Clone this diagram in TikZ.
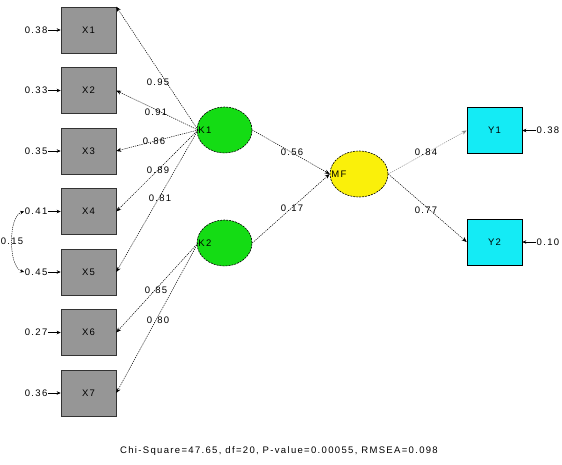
\documentclass[tikz,border=0pt]{standalone}
\usepackage{fontspec}
\setmainfont{Liberation Sans}[LetterSpace=14]
\usetikzlibrary{arrows.meta,shapes.geometric}
\definecolor{boxgray}{RGB}{150,150,150}
\definecolor{lgreen}{RGB}{20,220,20}
\definecolor{lyellow}{RGB}{250,240,10}
\definecolor{lcyan}{RGB}{20,235,245}
\begin{document}
\begin{tikzpicture}[x=1pt,y=-1pt,
  font=\fontsize{9.5}{11}\selectfont,
  obs/.style={draw=black!80,fill=boxgray,minimum width=55pt,minimum height=46pt,inner sep=0pt,line width=0.6pt},
  yobs/.style={draw=black,fill=lcyan,minimum width=55pt,minimum height=46pt,inner sep=0pt,line width=0.6pt},
  lat/.style={ellipse,draw=black,dash pattern=on 2pt off 1pt,minimum width=55pt,minimum height=46pt,inner sep=0pt,line width=0.6pt},
  path/.style={draw=black,line width=0.5pt,dash pattern=on 1.2pt off 1pt,-{Stealth[length=5pt,width=4pt]}},
  err/.style={draw=black,line width=0.6pt,-{Stealth[length=4pt,width=3.5pt]}},
  val/.style={inner sep=0.5pt}]
\useasboundingbox (0,0) rectangle (562,464);
% observed X
\foreach \i/\y in {1/30,2/90.5,3/151,4/211.5,5/272,6/332.5,7/393}{
  \node[obs] (x\i) at (88.5,\y) {X\i};
}
% latent
\node[lat,fill=lgreen] (k1) at (224.5,130) {};
\node[anchor=west,inner sep=0pt] (k1l) at (k1.west) {\,K1};
\node[lat,fill=lgreen] (k2) at (224.5,243) {};
\node[anchor=west,inner sep=0pt] (k2l) at (k2.west) {\,K2};
\node[lat,fill=lyellow,minimum width=58pt] (m) at (359,174) {};
\node[anchor=west,inner sep=0pt] (ml) at (m.west) {\,MF};
% Y boxes
\node[yobs] (y1) at (494.5,130.5) {Y1};
\node[yobs] (y2) at (494.5,242) {Y2};
% error terms on X
\node[val,anchor=east] (ex1) at (48,30) {0.38};
\node[val,anchor=east] (ex2) at (48,90.5) {0.33};
\node[val,anchor=east] (ex3) at (48,151) {0.35};
\node[val,anchor=east] (ex4) at (48,211.5) {0.41};
\node[val,anchor=east] (ex5) at (48,272) {0.45};
\node[val,anchor=east] (ex6) at (48,332.5) {0.27};
\node[val,anchor=east] (ex7) at (48,393) {0.36};
\foreach \i in {1,...,7}{
  \draw[err] (ex\i.east) -- (x\i.west);
}
% error covariance X4-X5
\draw[line width=0.5pt,dash pattern=on 1.2pt off 1pt,{Stealth[length=4pt,width=3.5pt]}-{Stealth[length=4pt,width=3.5pt]}]
  (ex4.west) .. controls (8,216) and (8,267) .. (ex5.west);
\node[val] (c45) at (12,241.5) {0.15};
% error terms on Y
\node[val,anchor=west] (ey1) at (536,130.5) {0.38};
\node[val,anchor=west] (ey2) at (536,242) {0.10};
\draw[err] (ey1.west) -- (y1.east);
\draw[err] (ey2.west) -- (y2.east);
% loadings
\coordinate (k1w) at (198,130);
\coordinate (k2w) at (198,243);
\draw[path] (k1w) -- (x1.north east);
\draw[path] (k1w) -- (x2.east);
\draw[path] (k1w) -- (x3.east);
\draw[path] (k1w) -- (x4.east);
\draw[path] (k1w) -- (x5.east);
\draw[path] (k2w) -- (x6.east);
\draw[path] (k2w) -- (x7.east);
\node[val] (l1) at (158,82) {0.95};
\node[val] (l2) at (156,112) {0.91};
\node[val] (l3) at (154,141) {0.86};
\node[val] (l4) at (158,170) {0.89};
\node[val] (l5) at (160,198) {0.81};
\node[val] (l6) at (156,290) {0.85};
\node[val] (l7) at (158,320) {0.80};
% structural
\draw[path] (k1.east) -- (m.west);
\draw[path] (k2.east) -- (m.west);
\node[val] (g1) at (292,152) {0.56};
\node[val] (g2) at (292,208) {0.17};
\draw[path,draw=black!45] (m.east) -- (y1.west);
\draw[path] (m.east) -- (y2.west);
\node[val] (b1) at (426,152) {0.84};
\node[val] (b2) at (426,210) {0.77};
% fit statistics
\node (fit) at (279,451) {Chi-Square=47.65, df=20, P-value=0.00055, RMSEA=0.098};
\end{tikzpicture}
\end{document}
